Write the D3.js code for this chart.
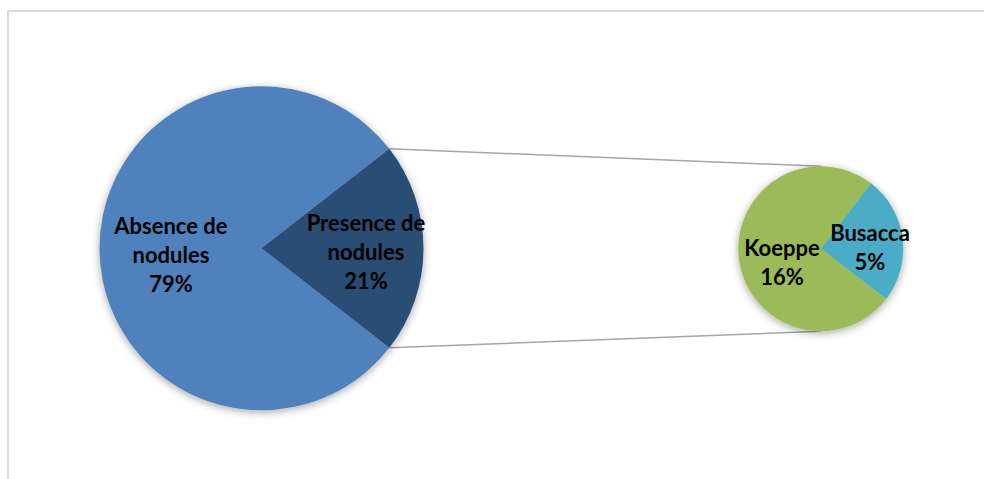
<!DOCTYPE html>
<html>
<head>
<meta charset="utf-8">
<script src="https://cdn.jsdelivr.net/npm/d3@7"></script>
<style>
  html, body { margin: 0; padding: 0; background: #fff; }
  svg { display: block; }
</style>
</head>
<body>
<svg id="chart" width="984" height="479"></svg>
<script>
// Patient counts: main split, then the breakdown of the "presence" slice.
const mainCategories = ["Absence de nodules", "Presence de nodules"];
const mainCounts = [15, 4];
const subCategories = ["Busacca", "Koeppe"];
const subCounts = [1, 3];

const mainColors = ["#4f81bd", "#2c4d75"];
const subColors = ["#4bacc6", "#9bbb59"];

const W = 984, H = 479;
const svg = d3.select("#chart");
const total = d3.sum(mainCounts);
const pct = v => Math.round(100 * v / total) + "%";

// Shadow filter shared by both pies
const defs = svg.append("defs");
const f = defs.append("filter").attr("id", "shadow")
  .attr("x", "-20%").attr("y", "-20%").attr("width", "140%").attr("height", "140%");
f.append("feDropShadow").attr("dx", 0).attr("dy", 2)
  .attr("stdDeviation", 4).attr("flood-color", "#000").attr("flood-opacity", 0.35);

// Chart frame
svg.append("rect")
  .attr("x", 8).attr("y", 11).attr("width", W + 20).attr("height", H + 20)
  .attr("fill", "none").attr("stroke", "#d9d9d9").attr("stroke-width", 2);

// Geometry
const main = { cx: 261.5, cy: 248.3, r: 162 };
const sub = { cx: 820.8, cy: 248.7, r: 82.5 };

// Main pie: the "presence" slice is centred on the right-hand side (pi/2)
const presFrac = mainCounts[1] / total;
const presHalf = presFrac * Math.PI;
const mainPie = d3.pie().sort(null).value(d => d)
  .startAngle(Math.PI / 2 + presHalf)
  .endAngle(Math.PI / 2 + presHalf + 2 * Math.PI);
// order so that "presence" sits at the end of the sweep -> right side
const mainArcsRaw = d3.pie().sort(null).value(d => d)
  .startAngle(Math.PI / 2 - presHalf)
  .endAngle(Math.PI / 2 - presHalf + 2 * Math.PI)([mainCounts[1], mainCounts[0]]);
const mainArcs = [
  Object.assign({}, mainArcsRaw[1], { name: mainCategories[0], color: mainColors[0], value: mainCounts[0] }),
  Object.assign({}, mainArcsRaw[0], { name: mainCategories[1], color: mainColors[1], value: mainCounts[1] })
];

// Secondary pie
const subStart = 37.5 * Math.PI / 180;
const subArcsRaw = d3.pie().sort(null).value(d => d)
  .startAngle(subStart).endAngle(subStart + 2 * Math.PI)(subCounts);
const subArcs = subArcsRaw.map((a, i) => Object.assign({}, a, {
  name: subCategories[i], color: subColors[i], value: subCounts[i]
}));

// Connector lines between the two pies
const pres = mainArcs[1];
const edgePt = ang => [main.cx + main.r * Math.sin(ang), main.cy - main.r * Math.cos(ang)];
const pTop = edgePt(pres.startAngle), pBot = edgePt(pres.endAngle);
const conn = svg.append("g").attr("stroke", "#a6a6a6").attr("stroke-width", 1.5);
conn.append("line").attr("x1", pTop[0]).attr("y1", pTop[1])
  .attr("x2", sub.cx).attr("y2", sub.cy - sub.r);
conn.append("line").attr("x1", pBot[0]).attr("y1", pBot[1])
  .attr("x2", sub.cx).attr("y2", sub.cy + sub.r);

function drawPie(arcs, geo) {
  const arc = d3.arc().innerRadius(0).outerRadius(geo.r);
  const g = svg.append("g").attr("transform", `translate(${geo.cx},${geo.cy})`);
  g.append("g").attr("filter", "url(#shadow)")
    .selectAll("path").data(arcs).join("path")
    .attr("d", arc).attr("fill", d => d.color);
  return g;
}
const gMain = drawPie(mainArcs, main);
const gSub = drawPie(subArcs, sub);

// Label placement: radius fraction along the slice bisector plus a vertical nudge
const fontSize = 22, lineH = 29;
function label(g, d, geo, rf, dy, lines) {
  const la = d3.arc().innerRadius(geo.r * rf).outerRadius(geo.r * rf);
  const [x, y] = la.centroid(d);
  const t = g.append("text")
    .attr("text-anchor", "middle")
    .attr("font-family", "Lato, 'Open Sans', sans-serif")
    .attr("font-weight", "bold")
    .attr("font-size", fontSize)
    .attr("fill", "#000");
  lines.forEach((s, i) => {
    t.append("tspan").attr("x", x)
      .attr("y", y + dy + (i - (lines.length - 1) / 2) * lineH + 0.33 * fontSize)
      .text(s);
  });
}
label(gMain, mainArcs[0], main, 0.559, 7.7, ["Absence de", "nodules", pct(mainArcs[0].value)]);
label(gMain, mainArcs[1], main, 0.645, 4.7, ["Presence de", "nodules", pct(mainArcs[1].value)]);
label(gSub, subArcs[1], sub, 0.474, 9.2, [subArcs[1].name, pct(subArcs[1].value)]);
label(gSub, subArcs[0], sub, 0.6015, 6.3, [subArcs[0].name, pct(subArcs[0].value)]);
</script>
</body>
</html>
